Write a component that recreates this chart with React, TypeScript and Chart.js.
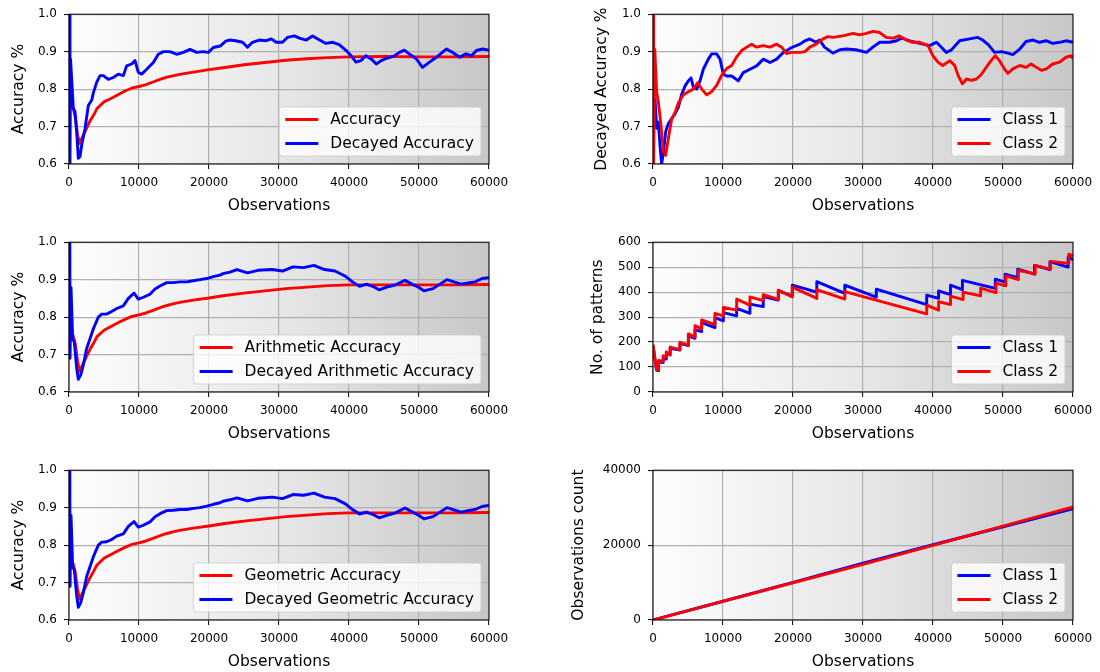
import React, { useEffect, useRef } from "react";
import { Chart, registerables } from "chart.js";

Chart.register(...registerables);
Chart.defaults.font.family = '"DejaVu Sans", sans-serif';

const FONT = '"DejaVu Sans", sans-serif';
const BLUE = "#0000ff";
const RED = "#ff0000";
const LINE_W = 2.9;

// ---------- x axis ----------
const X_MIN = 0;
const X_MAX = 60000;
const X_STEP = 10000;
const X_TITLE = "Observations";

// ---------- Panel 1: Accuracy vs Decayed Accuracy ----------
const ACC_X = [100, 300, 600, 900, 1200, 1500, 2000, 2500, 3000, 3500, 4000, 5000, 6000, 7000, 8000, 9000, 10000, 11000, 12000, 13000, 14000, 15000, 16000, 18000, 20000, 22000, 25000, 28000, 31000, 34000, 37000, 40000, 45000, 50000, 55000, 60000];
const ACC_Y = [0.76, 0.755, 0.75, 0.725, 0.68, 0.655, 0.675, 0.695, 0.715, 0.73, 0.748, 0.766, 0.775, 0.785, 0.795, 0.803, 0.807, 0.812, 0.819, 0.826, 0.832, 0.836, 0.84, 0.846, 0.852, 0.857, 0.865, 0.871, 0.877, 0.881, 0.884, 0.886, 0.887, 0.886, 0.886, 0.887];

const DEC_ACC_X = [120, 140, 220, 620, 860, 1100, 1330, 1570, 1810, 2290, 2760, 3240, 3480, 3950, 4430, 4900, 5620, 6330, 7050, 7760, 8240, 8950, 9430, 9900, 10380, 11100, 12050, 12760, 13480, 14430, 15380, 16330, 17290, 18240, 19190, 19900, 20620, 21600, 22400, 22900, 23800, 24800, 25500, 26200, 27200, 28100, 28900, 29600, 30500, 31200, 32200, 32900, 33900, 34800, 35800, 36700, 37700, 38600, 39600, 40300, 41000, 41700, 42400, 43200, 43900, 44600, 45500, 46500, 47200, 47900, 48600, 49600, 50500, 51500, 52500, 53200, 53900, 54800, 55800, 56700, 57500, 58200, 59100, 60000];
const DEC_ACC_Y = [1.0, 0.6, 0.88, 0.748, 0.74, 0.686, 0.615, 0.62, 0.65, 0.695, 0.756, 0.77, 0.79, 0.818, 0.836, 0.836, 0.826, 0.831, 0.84, 0.836, 0.862, 0.867, 0.876, 0.845, 0.84, 0.853, 0.871, 0.893, 0.9, 0.9, 0.893, 0.898, 0.906, 0.898, 0.9, 0.898, 0.911, 0.915, 0.928, 0.931, 0.929, 0.925, 0.912, 0.925, 0.931, 0.929, 0.934, 0.925, 0.925, 0.938, 0.942, 0.936, 0.931, 0.942, 0.931, 0.922, 0.925, 0.919, 0.903, 0.889, 0.872, 0.876, 0.889, 0.88, 0.867, 0.876, 0.883, 0.889, 0.898, 0.904, 0.894, 0.881, 0.858, 0.872, 0.885, 0.896, 0.907, 0.898, 0.885, 0.894, 0.889, 0.903, 0.907, 0.904];

// ---------- Panel 2: Decayed accuracy per class ----------
const C1_DEC_X = [150, 286, 524, 762, 1000, 1238, 1476, 1810, 2190, 2667, 3143, 3619, 4095, 4571, 5048, 5429, 5762, 6238, 6714, 7190, 7905, 8381, 9095, 9571, 10048, 10524, 11238, 12190, 12905, 13857, 14810, 15762, 16714, 17667, 18619, 19810, 21000, 21714, 22380, 23300, 23800, 24500, 25700, 26700, 27600, 29000, 30500, 31400, 32400, 33800, 34800, 35500, 36700, 38100, 39500, 40500, 41200, 41900, 42600, 43800, 45200, 46400, 47100, 47900, 48800, 49800, 50700, 51400, 52400, 53300, 54300, 55200, 56200, 57100, 58100, 59000, 60000];
const C1_DEC_Y = [0.74, 0.774, 0.695, 0.712, 0.65, 0.6, 0.63, 0.686, 0.708, 0.721, 0.734, 0.751, 0.786, 0.808, 0.822, 0.83, 0.805, 0.8, 0.822, 0.853, 0.88, 0.894, 0.894, 0.88, 0.84, 0.835, 0.835, 0.822, 0.844, 0.853, 0.862, 0.88, 0.871, 0.88, 0.898, 0.911, 0.92, 0.929, 0.934, 0.925, 0.931, 0.912, 0.896, 0.905, 0.907, 0.905, 0.898, 0.912, 0.925, 0.925, 0.929, 0.936, 0.929, 0.922, 0.916, 0.925, 0.912, 0.898, 0.904, 0.929, 0.934, 0.938, 0.931, 0.919, 0.898, 0.9, 0.896, 0.892, 0.907, 0.927, 0.931, 0.925, 0.929, 0.922, 0.925, 0.929, 0.925];

const C2_DEC_X = [60, 90, 250, 524, 762, 1143, 1476, 1810, 2190, 2667, 3143, 3619, 4333, 5048, 5762, 6381, 6952, 7667, 8381, 9095, 9810, 10524, 11238, 11952, 12667, 13381, 14095, 14810, 15762, 16714, 17667, 18381, 19095, 19810, 21000, 21714, 22400, 23300, 24300, 25000, 25700, 27100, 28600, 29500, 30500, 31400, 32400, 33300, 34300, 35200, 36200, 37100, 38100, 39300, 40000, 40700, 41400, 42400, 43100, 43600, 44200, 44800, 45500, 46200, 46900, 47600, 48300, 48900, 49500, 50200, 50700, 51400, 52400, 53300, 54000, 54800, 55500, 56200, 57100, 58100, 59000, 59800, 60000];
const C2_DEC_Y = [1.0, 0.6, 0.906, 0.792, 0.765, 0.703, 0.633, 0.623, 0.668, 0.72, 0.737, 0.763, 0.785, 0.793, 0.8, 0.817, 0.8, 0.785, 0.793, 0.81, 0.837, 0.855, 0.863, 0.886, 0.903, 0.912, 0.92, 0.912, 0.916, 0.912, 0.92, 0.912, 0.895, 0.898, 0.898, 0.9, 0.912, 0.92, 0.934, 0.94, 0.938, 0.942, 0.949, 0.945, 0.949, 0.954, 0.951, 0.938, 0.936, 0.942, 0.931, 0.925, 0.925, 0.916, 0.889, 0.872, 0.863, 0.876, 0.863, 0.836, 0.814, 0.827, 0.823, 0.827, 0.839, 0.858, 0.876, 0.889, 0.876, 0.854, 0.842, 0.854, 0.863, 0.858, 0.867, 0.858, 0.85, 0.854, 0.867, 0.872, 0.885, 0.889, 0.881];

// ---------- Panel 3: Arithmetic accuracy ----------
const ARI_X = [100, 300, 600, 900, 1200, 1500, 2000, 2500, 3000, 3500, 4000, 5000, 6000, 7000, 8000, 9000, 10000, 11000, 12000, 13000, 14000, 15000, 16000, 18000, 20000, 22000, 25000, 28000, 31000, 34000, 37000, 40000, 45000, 50000, 55000, 60000];
const ARI_Y = [0.76, 0.755, 0.75, 0.728, 0.685, 0.655, 0.675, 0.695, 0.714, 0.73, 0.748, 0.765, 0.775, 0.785, 0.794, 0.802, 0.806, 0.811, 0.818, 0.825, 0.831, 0.836, 0.84, 0.846, 0.851, 0.857, 0.864, 0.87, 0.876, 0.88, 0.884, 0.886, 0.886, 0.886, 0.886, 0.887];

const DEC_ARI_X = [120, 150, 290, 520, 760, 1100, 1330, 1670, 2050, 2520, 3000, 3480, 4190, 4670, 5380, 6100, 6810, 7760, 8480, 9290, 9900, 10620, 11570, 12290, 13000, 13950, 14900, 15860, 16810, 17760, 18710, 19670, 20620, 21570, 22000, 23000, 24000, 25500, 27000, 29000, 30500, 32000, 33500, 35000, 36500, 38000, 39500, 40500, 41500, 42500, 43500, 44300, 45500, 46500, 48000, 49000, 50000, 50700, 52000, 53000, 54000, 55000, 56000, 57000, 58000, 59000, 60000];
const DEC_ARI_Y = [1.0, 0.69, 0.879, 0.742, 0.733, 0.663, 0.634, 0.645, 0.672, 0.716, 0.742, 0.769, 0.8, 0.808, 0.808, 0.815, 0.823, 0.83, 0.85, 0.864, 0.848, 0.853, 0.861, 0.875, 0.883, 0.892, 0.892, 0.894, 0.894, 0.897, 0.9, 0.903, 0.908, 0.912, 0.916, 0.92, 0.927, 0.918, 0.925, 0.927, 0.923, 0.934, 0.932, 0.938, 0.927, 0.923, 0.909, 0.894, 0.882, 0.888, 0.881, 0.873, 0.881, 0.885, 0.898, 0.888, 0.879, 0.87, 0.876, 0.888, 0.9, 0.894, 0.888, 0.891, 0.894, 0.903, 0.905];

// ---------- Panel 4: Number of patterns ----------
const PAT1_X = [0, 500, 800, 800, 1450, 1450, 1900, 1900, 2450, 2450, 3850, 3850, 5050, 5050, 6000, 6000, 6950, 6950, 8850, 8850, 10050, 10050, 11950, 11950, 13850, 13850, 15750, 15750, 17900, 17900, 19900, 19900, 23400, 23400, 27400, 27400, 31900, 31900, 39100, 39100, 40800, 40800, 42500, 42500, 44200, 44200, 48900, 48900, 50300, 50300, 52100, 52100, 54500, 54500, 56700, 56700, 59300, 59300, 60000];
const PAT1_Y = [185, 88, 85, 120, 118, 135, 132, 155, 148, 175, 168, 195, 186, 225, 215, 250, 242, 278, 258, 298, 285, 318, 305, 335, 315, 352, 342, 382, 368, 405, 385, 428, 400, 442, 395, 428, 380, 412, 350, 388, 375, 405, 390, 428, 410, 447, 415, 452, 440, 472, 458, 492, 472, 507, 490, 522, 500, 540, 530];

const PAT2_X = [0, 500, 800, 800, 1450, 1450, 1900, 1900, 2450, 2450, 3850, 3850, 5050, 5050, 6000, 6000, 6950, 6950, 8850, 8850, 10050, 10050, 11950, 11950, 13850, 13850, 15750, 15750, 17900, 17900, 19900, 19900, 23400, 23400, 27400, 27400, 39100, 39100, 40800, 40800, 42500, 42500, 44300, 44300, 46800, 46800, 49000, 49000, 50400, 50400, 52200, 52200, 54600, 54600, 56800, 56800, 59400, 59400, 60000];
const PAT2_Y = [190, 90, 88, 127, 122, 145, 140, 160, 150, 180, 170, 199, 188, 233, 220, 266, 253, 289, 270, 315, 305, 339, 328, 372, 348, 381, 366, 390, 371, 408, 381, 420, 375, 410, 372, 402, 313, 348, 328, 362, 350, 384, 370, 400, 385, 416, 398, 436, 425, 465, 450, 487, 473, 507, 492, 523, 515, 552, 545];

// ---------- Panel 5: Geometric accuracy ----------
const GEO_X = [100, 300, 600, 900, 1200, 1500, 2000, 2500, 3000, 3500, 4000, 5000, 6000, 7000, 8000, 9000, 10000, 11000, 12000, 13000, 14000, 15000, 16000, 18000, 20000, 22000, 25000, 28000, 31000, 34000, 37000, 40000, 45000, 50000, 55000, 60000];
const GEO_Y = [0.76, 0.755, 0.75, 0.727, 0.684, 0.656, 0.675, 0.694, 0.713, 0.729, 0.747, 0.765, 0.775, 0.785, 0.794, 0.802, 0.806, 0.811, 0.818, 0.825, 0.831, 0.836, 0.84, 0.846, 0.851, 0.857, 0.864, 0.87, 0.876, 0.88, 0.884, 0.886, 0.886, 0.886, 0.886, 0.887];

const DEC_GEO_X = [120, 150, 290, 520, 760, 1100, 1330, 1670, 2050, 2520, 3000, 3480, 4190, 4670, 5380, 6100, 6810, 7760, 8480, 9290, 9900, 10620, 11570, 12290, 13000, 13950, 14900, 15860, 16810, 17760, 18710, 19670, 20620, 21570, 22000, 23000, 24000, 25500, 27000, 29000, 30500, 32000, 33500, 35000, 36500, 38000, 39500, 40500, 41500, 42500, 43500, 44300, 45500, 46500, 48000, 49000, 50000, 50700, 52000, 53000, 54000, 55000, 56000, 57000, 58000, 59000, 60000];
const DEC_GEO_Y = [1.0, 0.69, 0.879, 0.742, 0.733, 0.664, 0.634, 0.646, 0.673, 0.716, 0.742, 0.769, 0.8, 0.808, 0.809, 0.815, 0.824, 0.83, 0.85, 0.863, 0.848, 0.853, 0.862, 0.876, 0.884, 0.892, 0.893, 0.895, 0.895, 0.898, 0.9, 0.904, 0.909, 0.913, 0.917, 0.921, 0.926, 0.918, 0.925, 0.928, 0.924, 0.935, 0.933, 0.939, 0.928, 0.924, 0.91, 0.895, 0.883, 0.888, 0.881, 0.873, 0.88, 0.885, 0.899, 0.889, 0.879, 0.87, 0.876, 0.888, 0.9, 0.894, 0.888, 0.892, 0.895, 0.903, 0.906];

// ---------- Panel 6: Observations count ----------
const CNT_X = [0, 10000, 20000, 30000, 40000, 50000, 60000];
const CNT1_Y = [0, 5000, 10050, 15150, 20100, 24900, 29700];
const CNT2_Y = [0, 4950, 9950, 14850, 19900, 25050, 30200];

type SeriesDef = { label: string; color: string; xs: number[]; ys: number[]; order: number };
type PanelDef = {
  left: number; top: number; width: number; height: number;
  yAxisW: number; xAxisH: number; padRight: number;
  yTitle: string; yTitlePad: number; xTitlePad: number;
  yMin: number; yMax: number; yStep: number; yFmt: (v: number) => string;
  series: SeriesDef[];
};

const accFmt = (v: number) => Number(v).toFixed(1);
const intFmt = (v: number) => String(Math.round(Number(v)));

const LEFT = { left: 0, width: 550, yAxisW: 69, padRight: 61 };
const RIGHT = { left: 560, width: 540, yAxisW: 93, padRight: 27 };
const ROW0 = { top: 0, height: 224, xAxisH: 60, xTitlePad: 8.7 };
const ROW1 = { top: 228, height: 224, xAxisH: 60, xTitlePad: 8.7 };
const ROW2 = { top: 456, height: 216, xAxisH: 52, xTitlePad: 0.5 };

const PANELS: PanelDef[] = [
  {
    ...LEFT, ...ROW0, yTitle: "Accuracy %", yTitlePad: 9.2, yMin: 0.6, yMax: 1.0, yStep: 0.1, yFmt: accFmt,
    series: [
      { label: "Accuracy", color: RED, xs: ACC_X, ys: ACC_Y, order: 1 },
      { label: "Decayed Accuracy", color: BLUE, xs: DEC_ACC_X, ys: DEC_ACC_Y, order: 0 },
    ],
  },
  {
    ...RIGHT, ...ROW0, yTitle: "Decayed Accuracy %", yTitlePad: 32.2, yMin: 0.6, yMax: 1.0, yStep: 0.1, yFmt: accFmt,
    series: [
      { label: "Class 1", color: BLUE, xs: C1_DEC_X, ys: C1_DEC_Y, order: 1 },
      { label: "Class 2", color: RED, xs: C2_DEC_X, ys: C2_DEC_Y, order: 0 },
    ],
  },
  {
    ...LEFT, ...ROW1, yTitle: "Accuracy %", yTitlePad: 9.2, yMin: 0.6, yMax: 1.0, yStep: 0.1, yFmt: accFmt,
    series: [
      { label: "Arithmetic Accuracy", color: RED, xs: ARI_X, ys: ARI_Y, order: 1 },
      { label: "Decayed Arithmetic Accuracy", color: BLUE, xs: DEC_ARI_X, ys: DEC_ARI_Y, order: 0 },
    ],
  },
  {
    ...RIGHT, ...ROW1, yTitle: "No. of patterns", yTitlePad: 28.7, yMin: 0, yMax: 600, yStep: 100, yFmt: intFmt,
    series: [
      { label: "Class 1", color: BLUE, xs: PAT1_X, ys: PAT1_Y, order: 1 },
      { label: "Class 2", color: RED, xs: PAT2_X, ys: PAT2_Y, order: 0 },
    ],
  },
  {
    ...LEFT, ...ROW2, yTitle: "Accuracy %", yTitlePad: 9.2, yMin: 0.6, yMax: 1.0, yStep: 0.1, yFmt: accFmt,
    series: [
      { label: "Geometric Accuracy", color: RED, xs: GEO_X, ys: GEO_Y, order: 1 },
      { label: "Decayed Geometric Accuracy", color: BLUE, xs: DEC_GEO_X, ys: DEC_GEO_Y, order: 0 },
    ],
  },
  {
    ...RIGHT, ...ROW2, yTitle: "Observations count", yTitlePad: 9.7, yMin: 0, yMax: 40000, yStep: 20000, yFmt: intFmt,
    series: [
      { label: "Class 1", color: BLUE, xs: CNT_X, ys: CNT1_Y, order: 1 },
      { label: "Class 2", color: RED, xs: CNT_X, ys: CNT2_Y, order: 0 },
    ],
  },
];

const bgPlugin = {
  id: "bgGradient",
  beforeDraw(chart: any) {
    const { ctx, chartArea: a } = chart;
    const g = ctx.createLinearGradient(a.left, 0, a.right, 0);
    g.addColorStop(0, "#fdfdfd");
    g.addColorStop(0.5, "#e7e7e7");
    g.addColorStop(1, "#c7c7c7");
    ctx.save();
    ctx.fillStyle = g;
    ctx.fillRect(a.left, a.top, a.right - a.left, a.bottom - a.top);
    ctx.restore();
  },
};

const frameLegendPlugin = {
  id: "frameLegend",
  afterDraw(chart: any) {
    const { ctx, chartArea: a } = chart;
    ctx.save();
    // spines
    ctx.strokeStyle = "#000";
    ctx.lineWidth = 1;
    ctx.strokeRect(a.left, a.top, a.right - a.left, a.bottom - a.top);
    // legend
    const items = chart.data.datasets.map((d: any) => ({ label: d.label, color: d.borderColor }));
    ctx.font = `15.5px ${FONT}`;
    const textW = Math.max(...items.map((it: any) => ctx.measureText(it.label).width));
    const padL = 6, handle = 33, gap = 12, padR = 7;
    const boxW = padL + handle + gap + textW + padR;
    const boxH = 49;
    const bx = a.right - 8 - boxW;
    const by = a.bottom - 8 - boxH;
    ctx.beginPath();
    (ctx as any).roundRect(bx, by, boxW, boxH, 3);
    ctx.fillStyle = "rgba(255,255,255,0.8)";
    ctx.fill();
    ctx.strokeStyle = "rgba(204,204,204,0.8)";
    ctx.lineWidth = 1;
    ctx.stroke();
    items.forEach((it: any, i: number) => {
      const cy = by + 12.5 + i * 24;
      ctx.beginPath();
      ctx.moveTo(bx + padL, cy);
      ctx.lineTo(bx + padL + handle, cy);
      ctx.strokeStyle = it.color;
      ctx.lineWidth = LINE_W;
      ctx.lineCap = "butt";
      ctx.stroke();
      ctx.fillStyle = "#000";
      ctx.textBaseline = "middle";
      ctx.textAlign = "left";
      ctx.fillText(it.label, bx + padL + handle + gap, cy + 0.5);
    });
    ctx.restore();
  },
};

function Panel({ def }: { def: PanelDef }) {
  const ref = useRef<HTMLCanvasElement>(null);
  useEffect(() => {
    if (!ref.current) return;
    const grid = { color: "#b0b0b0", lineWidth: 1.2, tickLength: 5, tickColor: "#000", tickWidth: 1, drawTicks: true };
    const chart = new Chart(ref.current, {
      type: "line",
      data: {
        datasets: def.series.map((s) => ({
          label: s.label,
          data: s.xs.map((x, i) => ({ x, y: s.ys[i] })),
          borderColor: s.color,
          backgroundColor: s.color,
          borderWidth: LINE_W,
          pointRadius: 0,
          pointHoverRadius: 0,
          tension: 0,
          fill: false,
          order: s.order,
          clip: 0,
          borderJoinStyle: "round",
        })) as any,
      },
      options: {
        animation: false,
        responsive: false,
        maintainAspectRatio: false,
        events: [],
        layout: { padding: { left: 0, right: def.padRight, top: 13, bottom: 0 } },
        plugins: { legend: { display: false }, tooltip: { enabled: false } },
        scales: {
          x: {
            type: "linear",
            min: X_MIN,
            max: X_MAX,
            grid,
            border: { display: false },
            ticks: {
              stepSize: X_STEP,
              autoSkip: false,
              maxRotation: 0,
              minRotation: 0,
              padding: 7,
              color: "#000",
              font: { size: 12, family: FONT },
              callback: (v: any) => String(v),
            },
            title: {
              display: true,
              text: X_TITLE,
              color: "#000",
              font: { size: 15.5, family: FONT },
              padding: { top: 0, bottom: def.xTitlePad },
            },
            afterFit: (s: any) => { s.height = def.xAxisH; },
          },
          y: {
            type: "linear",
            min: def.yMin,
            max: def.yMax,
            grid,
            border: { display: false },
            ticks: {
              stepSize: def.yStep,
              autoSkip: false,
              padding: 7,
              color: "#000",
              font: { size: 12, family: FONT },
              callback: (v: any) => def.yFmt(v),
            },
            title: {
              display: true,
              text: def.yTitle,
              color: "#000",
              font: { size: 15.5, family: FONT },
              padding: { top: def.yTitlePad, bottom: 0 },
            },
            afterFit: (s: any) => { s.width = def.yAxisW; },
          },
        },
      } as any,
      plugins: [bgPlugin, frameLegendPlugin],
    });
    return () => chart.destroy();
  }, [def]);
  return (
    <canvas
      ref={ref}
      width={def.width}
      height={def.height}
      style={{ position: "absolute", left: def.left, top: def.top, width: def.width, height: def.height }}
    />
  );
}

export default function App() {
  return (
    <div style={{ position: "fixed", left: 0, top: 0, width: 1100, height: 672, background: "#fff", overflow: "hidden" }}>
      {PANELS.map((p, i) => (
        <Panel key={i} def={p} />
      ))}
    </div>
  );
}
